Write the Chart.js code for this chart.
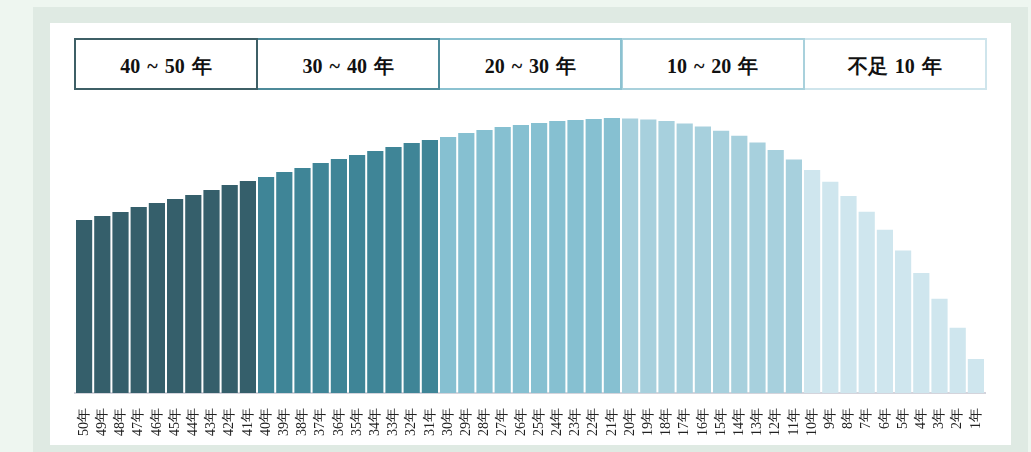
<!DOCTYPE html>
<html>
<head>
<meta charset="utf-8">
<script src="https://cdn.jsdelivr.net/npm/chart.js@4"></script>
<style>
  html, body { margin: 0; padding: 0; }
  body { width: 1031px; height: 452px; background: #eef6f0; position: relative; overflow: hidden; }
  #frame { position: absolute; left: 33px; top: 7px; width: 995px; height: 460px; background: #dfeae3; }
  #panel { position: absolute; left: 50px; top: 23px; width: 961px; height: 422px; background: #fff; }
  #chart { position: absolute; left: 0; top: 0; }
  .box { position: absolute; top: 15px; height: 52px; box-sizing: border-box; border: 2px solid #ccc;
         display: flex; align-items: center; justify-content: center; padding-top: 5px; word-spacing: 2px;
         font-family: "Liberation Serif", serif; font-weight: bold; font-size: 20px; color: #111; background: #fff; }
</style>
</head>
<body>
<div id="frame"></div>
<div id="panel">
  <canvas id="chart" width="961" height="422"></canvas>
  <div id="legend"></div>
</div>
<script>
// categories: 50年 .. 1年
const years = [];
for (let i = 50; i >= 1; i--) years.push(i + '年');

// bar heights (50年 -> 1年)
const values = [
  173, 177, 181, 186, 190, 194, 198, 203, 208, 212,
  216, 221, 225, 230, 234, 238, 242, 246, 250, 253,
  256, 260, 263, 266, 268, 270, 272, 273, 274, 275,
  274.6, 273.6, 272, 269.6, 266.6, 262.3, 257.3, 250.6, 243, 233.6,
  223, 211.3, 197, 181.3, 163.3, 142.6, 120, 94.3, 65.3, 34
];

const groupLabels = ['40 ~ 50 年', '30 ~ 40 年', '20 ~ 30 年', '10 ~ 20 年', '不足 10 年'];
const groupColors = ['#355f6b', '#3f8597', '#86c0d1', '#a7d0dd', '#cfe6ee'];
const groupBorders = ['#3e5f66', '#4d8a99', '#8cc2d1', '#a9d1dc', '#cfe5ec'];

const barColors = values.map((v, i) => groupColors[Math.floor(i / 10)]);

// legend boxes
const legend = document.getElementById('legend');
groupLabels.forEach((t, i) => {
  const d = document.createElement('div');
  d.className = 'box';
  d.style.left = (24 + i * 182.2) + 'px';
  d.style.width = '184px';
  d.style.borderColor = groupBorders[i];
  d.style.zIndex = 10 - i;
  d.textContent = t;
  legend.appendChild(d);
});

new Chart(document.getElementById('chart'), {
  type: 'bar',
  data: {
    labels: years,
    datasets: [{
      data: values,
      backgroundColor: barColors,
      borderWidth: 0,
      barPercentage: 0.89,
      categoryPercentage: 1
    }]
  },
  options: {
    responsive: false,
    animation: false,
    layout: { padding: { left: 25, right: 26, top: 77, bottom: 0 } },
    plugins: { legend: { display: false }, tooltip: { enabled: false } },
    scales: {
      x: {
        grid: { display: false },
        border: { display: true, color: '#d4d4dc', width: 2 },
        ticks: {
          minRotation: 90, maxRotation: 90, autoSkip: false, padding: 7,
          color: '#222',
          font: { family: '"Liberation Serif", serif', size: 14 }
        },
        afterFit: (scale) => { scale.height = 52; }
      },
      y: {
        display: false,
        min: 0,
        max: 293
      }
    }
  }
});
</script>
</body>
</html>
